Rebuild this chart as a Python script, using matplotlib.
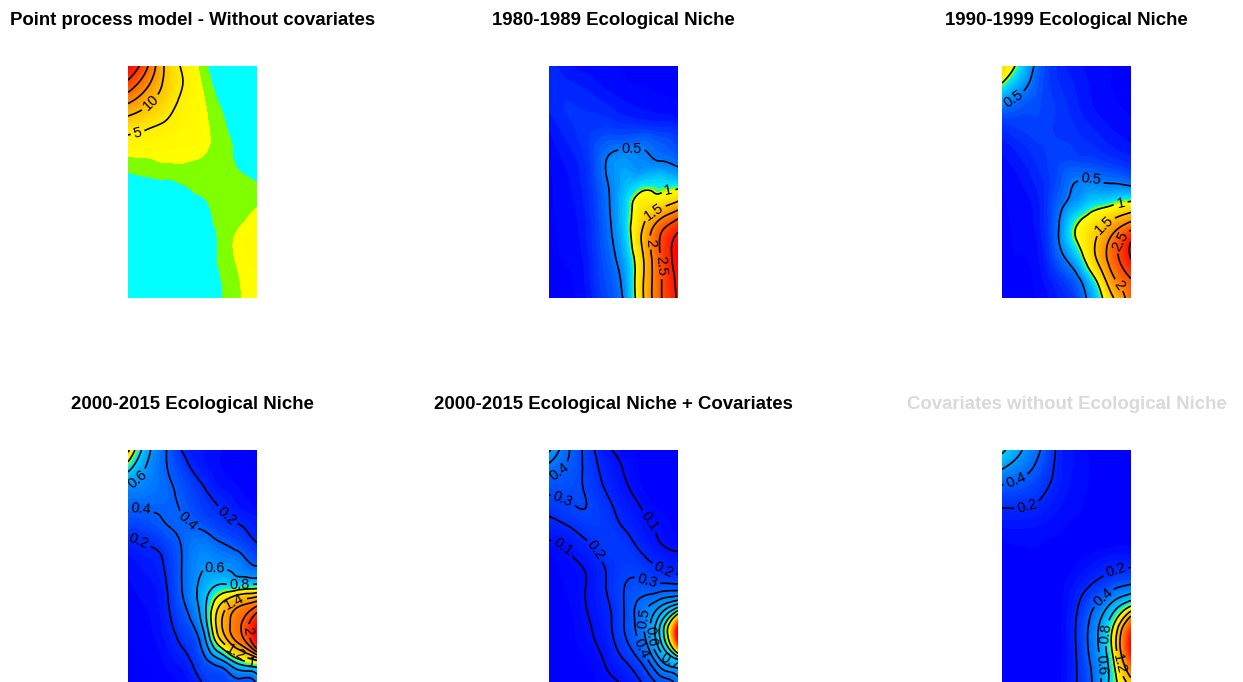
import numpy as np
import matplotlib
matplotlib.use('Agg')
import matplotlib.pyplot as plt
import matplotlib.tri as mtri
from matplotlib.colors import LinearSegmentedColormap, Normalize

plt.rcParams['font.family'] = ['Liberation Sans', 'DejaVu Sans']

# values, 8 columns (left to right), 13 rows (top to bottom)
no_covariates = [
    [30, 21, 9.5, 4.5, 1.5, 0.55, 0.4, 0.3],
    [23, 16, 9, 4.9, 2.0, 0.6, 0.4, 0.3],
    [14.5, 10.5, 7, 4, 2.3, 0.95, 0.4, 0.3],
    [7.5, 6, 4.7, 3.3, 2.4, 1.3, 0.5, 0.35],
    [3.6, 3.2, 2.9, 2.6, 2.35, 1.5, 0.8, 0.4],
    [1.5, 1.7, 1.98, 2.02, 1.85, 1.6, 0.85, 0.6],
    [0.7, 0.8, 0.85, 1.1, 1.5, 1.6, 1.3, 0.95],
    [0.4, 0.45, 0.55, 0.7, 0.85, 1.45, 1.55, 1.75],
    [0.3, 0.35, 0.4, 0.5, 0.7, 1.25, 1.75, 2.5],
    [0.25, 0.3, 0.35, 0.4, 0.55, 1.15, 2.3, 2.8],
    [0.25, 0.25, 0.3, 0.35, 0.5, 1.15, 2.2, 2.7],
    [0.2, 0.25, 0.25, 0.3, 0.4, 0.95, 1.95, 2.5],
    [0.2, 0.2, 0.25, 0.3, 0.35, 0.9, 1.85, 2.4],
]
niche_1980 = [
    [0.2, 0.12, 0.08, 0.07, 0.05, 0.03, 0.02, 0.02],
    [0.2, 0.18, 0.15, 0.1, 0.07, 0.05, 0.03, 0.03],
    [0.18, 0.22, 0.2, 0.17, 0.12, 0.1, 0.08, 0.06],
    [0.12, 0.2, 0.24, 0.25, 0.22, 0.2, 0.18, 0.15],
    [0.08, 0.16, 0.25, 0.38, 0.42, 0.45, 0.38, 0.3],
    [0.05, 0.12, 0.22, 0.48, 0.62, 0.55, 0.52, 0.45],
    [0.04, 0.1, 0.2, 0.45, 0.68, 0.8, 0.85, 0.8],
    [0.04, 0.09, 0.18, 0.42, 0.75, 1.15, 1.2, 1.5],
    [0.03, 0.08, 0.16, 0.4, 0.75, 1.35, 2.05, 2.6],
    [0.03, 0.07, 0.15, 0.38, 0.7, 1.5, 2.5, 3.15],
    [0.03, 0.06, 0.13, 0.35, 0.62, 1.35, 2.45, 3.2],
    [0.02, 0.05, 0.12, 0.32, 0.55, 1.35, 2.4, 3.1],
    [0.02, 0.05, 0.1, 0.28, 0.5, 1.35, 2.4, 3.05],
]
niche_1990 = [
    [1.35, 0.85, 0.4, 0.2, 0.12, 0.08, 0.05, 0.03],
    [0.95, 0.62, 0.35, 0.22, 0.15, 0.09, 0.05, 0.03],
    [0.52, 0.38, 0.32, 0.25, 0.17, 0.1, 0.06, 0.04],
    [0.25, 0.28, 0.3, 0.25, 0.2, 0.14, 0.09, 0.06],
    [0.14, 0.2, 0.26, 0.27, 0.24, 0.2, 0.14, 0.1],
    [0.08, 0.14, 0.22, 0.3, 0.32, 0.3, 0.25, 0.2],
    [0.05, 0.1, 0.18, 0.32, 0.5, 0.52, 0.48, 0.42],
    [0.04, 0.08, 0.15, 0.38, 0.6, 0.8, 0.88, 1.0],
    [0.03, 0.07, 0.14, 0.45, 0.92, 1.22, 1.55, 1.95],
    [0.03, 0.06, 0.12, 0.46, 0.98, 1.45, 2.15, 2.95],
    [0.03, 0.05, 0.1, 0.36, 0.7, 1.4, 2.25, 3.0],
    [0.02, 0.04, 0.08, 0.22, 0.42, 0.95, 1.9, 2.5],
    [0.02, 0.03, 0.06, 0.15, 0.28, 0.7, 1.45, 2.3],
]
niche_2000 = [
    [1.25, 0.68, 0.42, 0.18, 0.12, 0.08, 0.05, 0.03],
    [0.85, 0.58, 0.42, 0.27, 0.14, 0.08, 0.05, 0.03],
    [0.55, 0.5, 0.44, 0.34, 0.22, 0.12, 0.08, 0.05],
    [0.42, 0.41, 0.42, 0.38, 0.27, 0.2, 0.12, 0.08],
    [0.28, 0.3, 0.38, 0.42, 0.38, 0.28, 0.22, 0.14],
    [0.14, 0.19, 0.26, 0.42, 0.52, 0.44, 0.35, 0.22],
    [0.09, 0.13, 0.21, 0.42, 0.58, 0.58, 0.52, 0.4],
    [0.07, 0.1, 0.18, 0.42, 0.65, 0.82, 0.82, 0.85],
    [0.05, 0.08, 0.16, 0.38, 0.68, 1.2, 1.55, 1.75],
    [0.04, 0.07, 0.14, 0.3, 0.6, 1.35, 1.75, 2.25],
    [0.03, 0.06, 0.11, 0.22, 0.44, 1.1, 1.6, 2.25],
    [0.02, 0.04, 0.08, 0.14, 0.3, 0.5, 0.85, 1.05],
    [0.02, 0.03, 0.05, 0.09, 0.2, 0.28, 0.35, 0.45],
]
niche_covariates = [
    [0.62, 0.42, 0.27, 0.13, 0.08, 0.05, 0.03, 0.02],
    [0.45, 0.38, 0.28, 0.17, 0.1, 0.06, 0.03, 0.02],
    [0.33, 0.33, 0.29, 0.2, 0.12, 0.07, 0.04, 0.03],
    [0.24, 0.28, 0.3, 0.24, 0.16, 0.1, 0.06, 0.03],
    [0.15, 0.19, 0.25, 0.26, 0.2, 0.13, 0.09, 0.05],
    [0.08, 0.11, 0.17, 0.25, 0.25, 0.18, 0.11, 0.09],
    [0.05, 0.08, 0.11, 0.2, 0.26, 0.25, 0.19, 0.15],
    [0.04, 0.07, 0.1, 0.19, 0.29, 0.33, 0.32, 0.32],
    [0.03, 0.06, 0.1, 0.17, 0.29, 0.44, 0.57, 0.72],
    [0.03, 0.05, 0.09, 0.15, 0.29, 0.47, 0.78, 1.25],
    [0.02, 0.05, 0.08, 0.13, 0.26, 0.42, 0.76, 1.25],
    [0.02, 0.04, 0.06, 0.1, 0.18, 0.3, 0.55, 0.72],
    [0.02, 0.03, 0.05, 0.08, 0.11, 0.2, 0.33, 0.45],
]
covariates_only = [
    [0.85, 0.62, 0.42, 0.18, 0.1, 0.06, 0.04, 0.03],
    [0.6, 0.48, 0.34, 0.17, 0.1, 0.06, 0.04, 0.03],
    [0.36, 0.32, 0.25, 0.15, 0.09, 0.06, 0.04, 0.03],
    [0.2, 0.2, 0.17, 0.11, 0.08, 0.05, 0.04, 0.03],
    [0.11, 0.11, 0.1, 0.08, 0.06, 0.05, 0.05, 0.04],
    [0.06, 0.07, 0.07, 0.06, 0.06, 0.06, 0.07, 0.07],
    [0.04, 0.05, 0.05, 0.05, 0.07, 0.12, 0.17, 0.19],
    [0.03, 0.04, 0.04, 0.05, 0.12, 0.22, 0.33, 0.42],
    [0.03, 0.03, 0.04, 0.05, 0.17, 0.38, 0.65, 0.95],
    [0.02, 0.03, 0.04, 0.05, 0.2, 0.5, 0.95, 1.7],
    [0.02, 0.03, 0.04, 0.05, 0.2, 0.52, 1.05, 2.1],
    [0.02, 0.03, 0.03, 0.05, 0.19, 0.47, 0.95, 1.75],
    [0.02, 0.02, 0.03, 0.05, 0.19, 0.44, 0.9, 1.3],
]

titles = [
    'Point process model - Without covariates',
    '1980-1989 Ecological Niche',
    '1990-1999 Ecological Niche',
    '2000-2015 Ecological Niche',
    '2000-2015 Ecological Niche + Covariates',
    'Covariates without Ecological Niche',
]
title_colors = ['black', 'black', 'black', 'black', 'black', '#d9d9d9']
fields = [no_covariates, niche_1980, niche_1990, niche_2000, niche_covariates, covariates_only]
top_values = [30, 3.2, 3.1, 2.3, 1.3, 2.1]
line_levels = [
    [5, 10, 15, 20, 25],
    [0.5, 1, 1.5, 2, 2.5, 3],
    [0.5, 1, 1.5, 2, 2.5, 3],
    [0.2, 0.4, 0.6, 0.8, 1, 1.2, 1.4, 1.6, 1.8, 2],
    [0.1, 0.2, 0.3, 0.4, 0.5, 0.6, 0.7, 0.8, 0.9, 1],
    [0.2, 0.4, 0.6, 0.8, 1, 1.2, 1.4],
]
# contour labels: level, then spot as fractions of the panel (x from left, y from top)
label_spots = [
    [(5, 0.07, 0.276), (10, 0.147, 0.143)],
    [(0.5, 0.64, 0.37), (1, 0.925, 0.533), (1.5, 0.83, 0.643), (2, 0.786, 0.761), (2.5, 0.83, 0.864)],
    [(0.5, 0.098, 0.15), (0.5, 0.688, 0.493), (1, 0.92, 0.593), (1.5, 0.79, 0.686),
     (2.5, 0.94, 0.761), (2, 0.93, 0.936)],
    [(0.6, 0.08, 0.132), (0.4, 0.096, 0.273), (0.4, 0.483, 0.295), (0.2, 0.747, 0.292), (0.2, 0.09, 0.384),
     (0.6, 0.677, 0.477), (0.8, 0.866, 0.578), (1.4, 0.845, 0.682), (1.2, 0.83, 0.876), (1, 0.948, 0.948),
     (2, 0.97, 0.779)],
    [(0.4, 0.077, 0.089), (0.3, 0.095, 0.23), (0.1, 0.778, 0.309), (0.2, 0.366, 0.431), (0.1, 0.108, 0.417),
     (0.2, 0.907, 0.496), (0.3, 0.753, 0.578), (0.5, 0.727, 0.726), (0.6, 0.92, 0.79), (0.4, 0.688, 0.862),
     (0.7, 0.933, 0.92)],
    [(0.4, 0.09, 0.108), (0.2, 0.193, 0.244), (0.2, 0.884, 0.527), (0.4, 0.8, 0.647), (0.8, 0.83, 0.79),
     (0.6, 0.768, 0.927), (1.2, 0.966, 0.912)],
]
panel_left = [128, 549, 1002]
panel_top = [66, 450]
panel_w = 129
panel_h = 232

W, H = 1243, 682
fig = plt.figure(figsize=(W / 100, H / 100), dpi=100)

# first panel has flat cyan/green steps then yellow to red
step_cmap = LinearSegmentedColormap.from_list('steps', [
    (0.0, '#00ffff'), (1 / 30, '#00ffff'), (1 / 30, '#80ff00'), (2 / 30, '#80ff00'),
    (2 / 30, '#ffff00'), (5 / 30, '#ffee00'), (10 / 30, '#ffc000'), (20 / 30, '#ff6a00'), (1.0, '#ff0000'),
])

for i, field in enumerate(fields):
    z = np.array(field, dtype=float)
    rows, cols = z.shape
    col_pos = np.linspace(0, 1, cols)
    row_pos = np.linspace(0, 1, rows)
    xx, yy = np.meshgrid(col_pos, row_pos)
    tri = mtri.Triangulation(xx.ravel(), yy.ravel())
    fine_tri, fine_z = mtri.UniformTriRefiner(tri).refine_field(z.ravel(), subdiv=3)

    left = panel_left[i % 3]
    top = panel_top[i // 3]
    ax = fig.add_axes([left / W, 1 - (top + panel_h) / H, panel_w / W, panel_h / H])

    vmax = top_values[i]
    if i == 0:
        cmap = step_cmap
        fill_levels = np.r_[0, 1, 2, np.linspace(2.5, vmax, 40)]
    else:
        cmap = LinearSegmentedColormap.from_list('fit', [
            (0.0, '#0000ff'), (0.05 / vmax, '#0000ff'), (0.9 / vmax, '#00e8ff'),
            (0.97 / vmax, '#80ff00'), (1.05 / vmax, '#ffff00'), (1.0, '#ff0000'),
        ])
        fill_levels = np.linspace(0, vmax, 60)

    ax.tricontourf(fine_tri, fine_z, levels=fill_levels, cmap=cmap,
                   norm=Normalize(0, vmax), extend='both', antialiased=False)
    ax.set_xlim(0, 1)
    ax.set_ylim(1, 0)
    # one contour set per level so each label lands on its own line
    for level in line_levels[i]:
        lines = ax.tricontour(fine_tri, fine_z, levels=[level], colors='black', linewidths=1.2)
        spots = [(sx, sy) for lev, sx, sy in label_spots[i] if lev == level]
        if spots:
            ax.clabel(lines, fmt='%g', fontsize=10.5, inline=True, inline_spacing=3, manual=spots)

    ax.axis('off')
    ax.set_title(titles[i], fontsize=13.4, fontweight='bold', color=title_colors[i], pad=29.4)

fig.savefig('out.png', dpi=100)
